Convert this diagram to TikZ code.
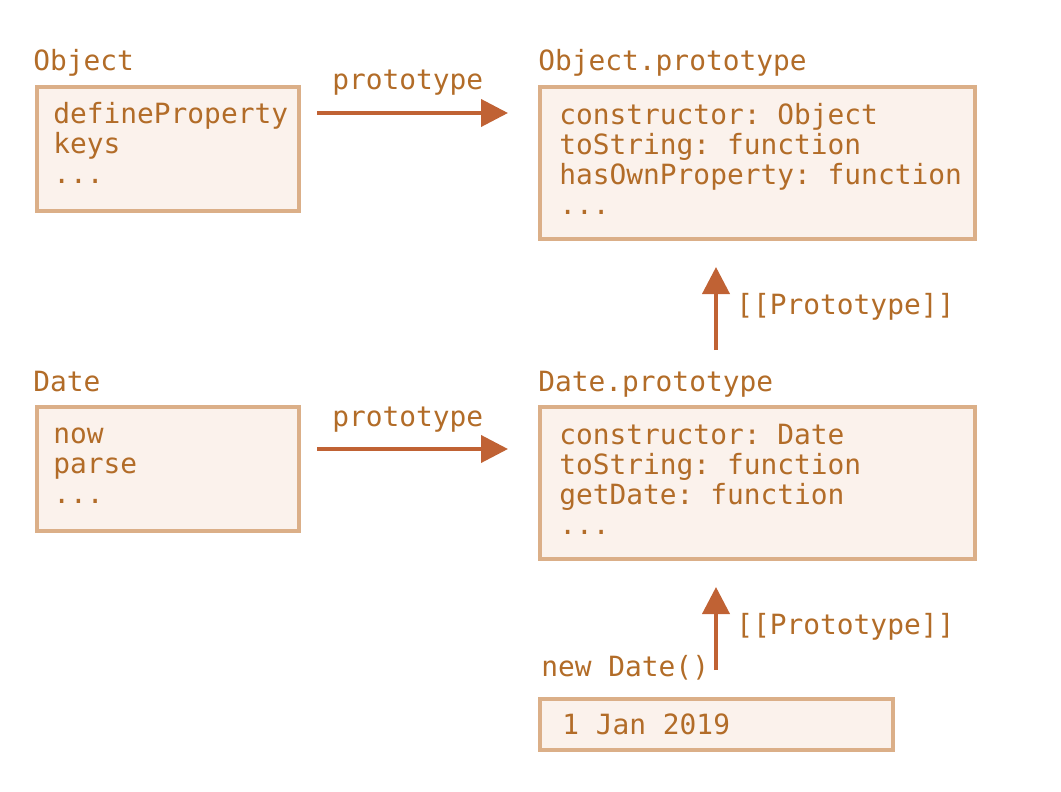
\documentclass[tikz,border=0pt]{standalone}
\usepackage{fontspec}
\setmonofont{DejaVu Sans Mono}
\usetikzlibrary{arrows.meta}
\definecolor{txt}{RGB}{178,108,40}
\definecolor{arrc}{RGB}{192,98,52}
\definecolor{bord}{RGB}{219,175,136}
\definecolor{boxfill}{RGB}{251,242,236}
\begin{document}
\begin{tikzpicture}[x=0.75pt,y=-0.75pt,
  lbl/.style={anchor=base west,inner sep=0pt,text=txt,font=\ttfamily\fontsize{20.9pt}{22.5pt}\selectfont},
  box/.style={draw=bord,fill=boxfill,line width=3.4pt,inner sep=0pt},
  arr/.style={draw=arrc,line width=3pt,-{Triangle[length=20.25pt,width=20.25pt]}}]
\useasboundingbox (0,0) rectangle (1061,792);
% boxes
\node[box,minimum width=196.5pt,minimum height=93pt] (objbox) at (168,149) {};
\node[box,minimum width=326.25pt,minimum height=114pt] (oprotobox) at (757.5,163) {};
\node[box,minimum width=196.5pt,minimum height=93pt] (datebox) at (168,469) {};
\node[box,minimum width=326.25pt,minimum height=114pt] (dprotobox) at (757.5,483) {};
\node[box,minimum width=264.75pt,minimum height=38.25pt] (newbox) at (716.5,724.5) {};
% titles
\node[lbl] (tobj) at (33,71) {Object};
\node[lbl] (toproto) at (538,71) {Object.prototype};
\node[lbl] (tdate) at (33,391) {Date};
\node[lbl] (tdproto) at (538,391) {Date.prototype};
\node[lbl] (tnew) at (541,676) {new Date()};
% object contents
\node[lbl] (o1) at (53,123) {defineProperty};
\node[lbl] (o2) at (53,153) {keys};
\node[lbl] (o3) at (53,183) {...};
\node[lbl] (p1) at (559,124) {constructor: Object};
\node[lbl] (p2) at (559,154) {toString: function};
\node[lbl] (p3) at (559,184) {hasOwnProperty: function};
\node[lbl] (p4) at (559,214) {...};
\node[lbl] (d1) at (53,443) {now};
\node[lbl] (d2) at (53,473) {parse};
\node[lbl] (d3) at (53,503) {...};
\node[lbl] (q1) at (559,444) {constructor: Date};
\node[lbl] (q2) at (559,474) {toString: function};
\node[lbl] (q3) at (559,504) {getDate: function};
\node[lbl] (q4) at (559,534) {...};
\node[lbl] (n1) at (562,734) {1 Jan 2019};
% arrows
\coordinate (h1s) at (317,113); \coordinate (h1e) at (508,113);
\coordinate (h2s) at (317,449); \coordinate (h2e) at (508,449);
\coordinate (v1s) at (716,350); \coordinate (v1e) at (716,267);
\coordinate (v2s) at (716,670); \coordinate (v2e) at (716,587);
\draw[arr] (h1s) -- (h1e);
\draw[arr] (h2s) -- (h2e);
\draw[arr] (v1s) -- (v1e);
\draw[arr] (v2s) -- (v2e);
\node[lbl] (l1) at (332,90) {prototype};
\node[lbl] (l2) at (332,426) {prototype};
\node[lbl] (l3) at (736,314) {[[Prototype]]};
\node[lbl] (l4) at (736,634) {[[Prototype]]};
\end{tikzpicture}
\end{document}
